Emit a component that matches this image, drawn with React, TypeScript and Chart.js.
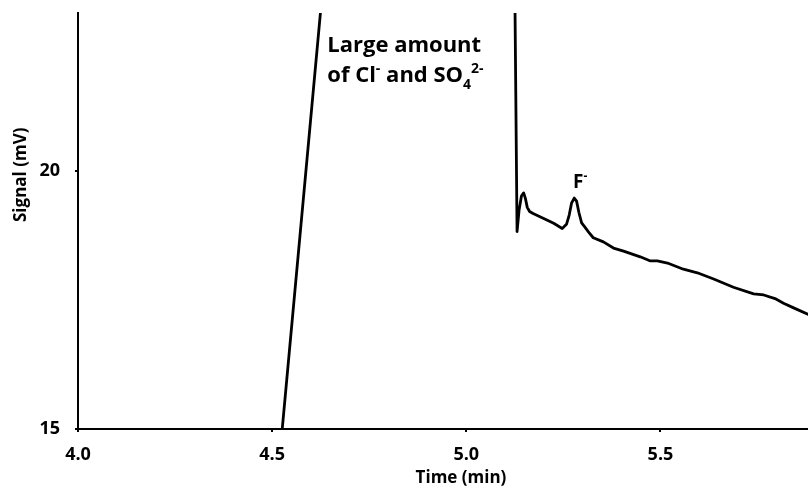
import { useEffect, useRef } from 'react';
import { Chart, registerables } from 'chart.js';

Chart.register(...registerables);

// ---- data ----
const times = [
  4.515, 4.66, 5.122, 5.1307, 5.136, 5.142, 5.1477, 5.152, 5.157, 5.163, 5.172,
  5.198, 5.225, 5.247, 5.258, 5.265, 5.271, 5.278, 5.284, 5.29, 5.297, 5.305,
  5.315, 5.327, 5.353, 5.379, 5.405, 5.448, 5.474, 5.492, 5.518,
  5.559, 5.595, 5.637, 5.688, 5.74, 5.766, 5.795, 5.817, 5.843, 5.881,
];
const signal = [
  14.1, 26.0, 26.0, 18.83, 19.25, 19.52, 19.58, 19.48, 19.3, 19.22, 19.18,
  19.09, 18.99, 18.89, 18.97, 19.15, 19.38, 19.48, 19.42, 19.2, 19.0, 18.92,
  18.82, 18.71, 18.63, 18.51, 18.45, 18.34, 18.26, 18.26, 18.22,
  18.1, 18.03, 17.91, 17.75, 17.62, 17.6, 17.53, 17.44, 17.35, 17.22,
];
const xTickValues = [4.0, 4.5, 5.0, 5.5];
const yTickValues = [15, 20];
const xMin = 4.0;
const xMax = 5.88;
const yMin = 15;
const yMax = 23.07;
const xTitle = 'Time (min)';
const yTitle = 'Signal (mV)';
const bigPeakLine1 = [{ t: 'Large amount', m: '' }];
const bigPeakLine2 = [
  { t: 'of Cl', m: '' },
  { t: '-', m: 'sup' },
  { t: ' and SO', m: '' },
  { t: '4', m: 'sub' },
  { t: '2-', m: 'sup' },
];
const fPeakLabel = [
  { t: 'F', m: '' },
  { t: '-', m: 'sup' },
];

const FAMILY = '"Open Sans", Lato, sans-serif';

type Seg = { t: string; m: string };

function drawRich(ctx: CanvasRenderingContext2D, segs: Seg[], x: number, y: number, size: number) {
  let cx = x;
  for (const s of segs) {
    const sz = s.m ? Math.round(size * 0.62) : size;
    ctx.font = `bold ${sz}px ${FAMILY}`;
    const dy = s.m === 'sup' ? -size * 0.4 : s.m === 'sub' ? size * 0.3 : 0;
    ctx.fillText(s.t, cx, y + dy);
    cx += ctx.measureText(s.t).width;
  }
}

const textPlugin = {
  id: 'textPlugin',
  afterDraw(chart: any) {
    const { ctx, scales } = chart;
    const xs = scales.x;
    const ys = scales.y;
    ctx.save();
    ctx.fillStyle = '#000';
    ctx.textBaseline = 'alphabetic';
    ctx.textAlign = 'left';

    // peak annotations
    const lx = xs.getPixelForValue(4.642);
    const ly = ys.getPixelForValue(22.31);
    drawRich(ctx, bigPeakLine1, lx, ly, 22);
    drawRich(ctx, bigPeakLine2, lx, ly + 30, 22);

    const fx = xs.getPixelForValue(5.275);
    const fy = ys.getPixelForValue(19.68);
    drawRich(ctx, fPeakLabel, fx, fy, 19);

    // axis titles
    ctx.font = `bold 17px ${FAMILY}`;
    ctx.textAlign = 'center';
    ctx.fillText(xTitle, 461, 483);

    ctx.save();
    ctx.translate(26, 222);
    ctx.rotate(-Math.PI / 2);
    ctx.font = `bold 17px ${FAMILY}`;
    ctx.textAlign = 'left';
    ctx.fillText(yTitle, 0, 0);
    ctx.restore();

    ctx.restore();
  },
};

export default function App() {
  const ref = useRef<HTMLCanvasElement | null>(null);

  useEffect(() => {
    if (!ref.current) return;
    const chart = new Chart(ref.current, {
      type: 'line',
      data: {
        datasets: [
          {
            data: times.map((t, i) => ({ x: t, y: signal[i] })),
            borderColor: '#000',
            borderWidth: 2.8,
            borderJoinStyle: 'round',
            borderCapStyle: 'round',
            pointRadius: 0,
            tension: 0,
            fill: false,
          },
        ],
      },
      options: {
        animation: false,
        responsive: false,
        devicePixelRatio: 1,
        layout: { padding: { top: 13, right: 0, left: 0, bottom: 0 } },
        plugins: {
          legend: { display: false },
          tooltip: { enabled: false },
        },
        scales: {
          x: {
            type: 'linear',
            min: xMin,
            max: xMax,
            afterBuildTicks: (scale: any) => {
              scale.ticks = xTickValues.map((v) => ({ value: v }));
            },
            afterFit: (scale: any) => {
              scale.height = 58;
              scale.paddingRight = 0;
            },
            grid: {
              display: true,
              drawOnChartArea: false,
              drawTicks: true,
              tickLength: 3,
              color: '#000',
              lineWidth: 2,
            },
            border: { display: true, color: '#000', width: 2 },
            ticks: {
              color: '#000',
              font: { family: FAMILY, size: 18, weight: 'bold' },
              padding: 12,
              maxRotation: 0,
              callback: (v: any) => Number(v).toFixed(1),
            },
          },
          y: {
            type: 'linear',
            min: yMin,
            max: yMax,
            afterBuildTicks: (scale: any) => {
              scale.ticks = yTickValues.map((v) => ({ value: v }));
            },
            afterFit: (scale: any) => {
              scale.width = 78;
              scale.paddingTop = 0;
              scale.paddingBottom = 0;
            },
            grid: {
              display: true,
              drawOnChartArea: false,
              drawTicks: true,
              tickLength: 3,
              color: '#000',
              lineWidth: 2,
            },
            border: { display: true, color: '#000', width: 2 },
            ticks: {
              color: '#000',
              font: { family: FAMILY, size: 18, weight: 'bold' },
              padding: 15,
              callback: (v: any) => String(v),
            },
          },
        },
      },
      plugins: [textPlugin],
    } as any);
    return () => chart.destroy();
  }, []);

  return (
    <div style={{ position: 'absolute', left: 0, top: 0, width: 808, height: 487, background: '#fff' }}>
      <canvas ref={ref} width={808} height={487} style={{ display: 'block', width: 808, height: 487 }} />
    </div>
  );
}
